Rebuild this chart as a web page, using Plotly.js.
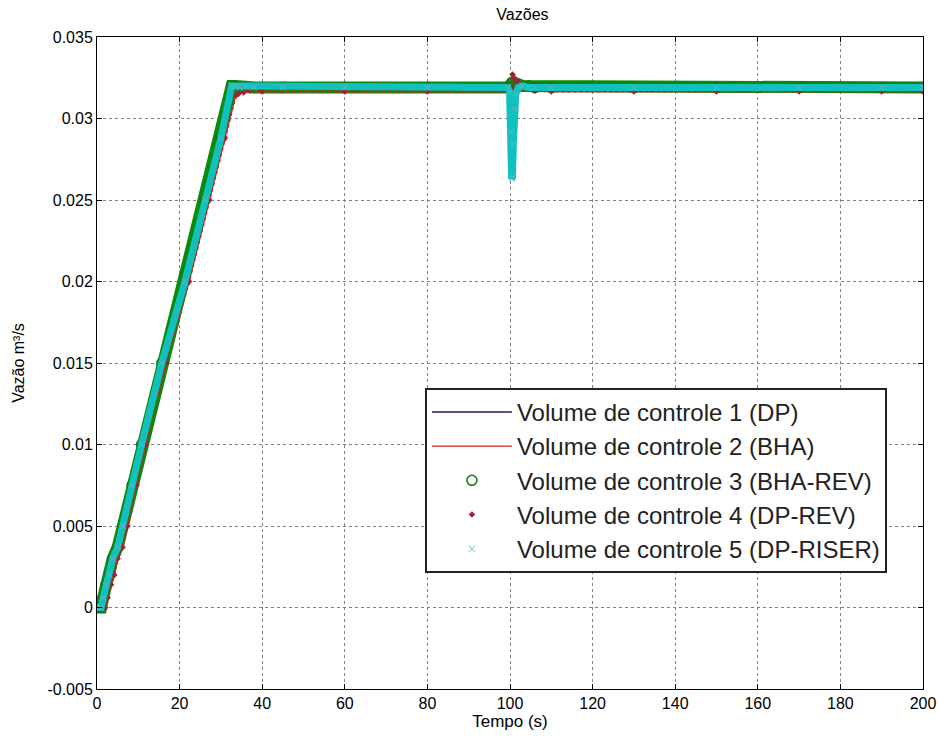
<!DOCTYPE html>
<html>
<head>
<meta charset="utf-8">
<script src="https://cdn.plot.ly/plotly-3.0.1.min.js"></script>
<style>html,body{margin:0;padding:0;background:#fff;}#chart{width:938px;height:738px;}</style>
</head>
<body>
<div id="chart"></div>
<script>
// Time (s) for volumes 1, 3, 5
const tempoA = [0, 1.0, 1.5, 2.2, 3.0, 3.8, 5.0, 6.3, 8.5, 10.8, 15.7, 21.3, 26.2, 30.0, 32.6, 33.4, 34.5, 36.0, 38.0, 45, 60, 80, 99.5, 99.9, 100.2, 100.4, 100.6, 100.8, 101.0, 101.4, 102.0, 103.0, 104.5, 106, 110, 130, 150, 170, 190, 200];
// Time (s) for volumes 2, 4 (lagging slightly)
const tempoB = [0, 2.0, 2.6, 3.4, 4.2, 5.0, 6.2, 7.4, 9.6, 11.8, 16.7, 22.3, 27.2, 31.0, 33.6, 34.2, 35.5, 37.0, 40, 60, 80, 99.5, 100.0, 100.3, 100.6, 101.0, 101.6, 102.5, 104, 106, 110, 130, 150, 170, 190, 200];

const vc1 = [0, 0, 0.0006, 0.0014, 0.0020, 0.0030, 0.0037, 0.0050, 0.0075, 0.0100, 0.0150, 0.0200, 0.0250, 0.0288, 0.0320, 0.0320, 0.0319, 0.03195, 0.0319, 0.0319, 0.0319, 0.0319, 0.0319, 0.0319, 0.0321, 0.0322, 0.0320, 0.0318, 0.0318, 0.0320, 0.0321, 0.0320, 0.0320, 0.0319, 0.0319, 0.0319, 0.0319, 0.0319, 0.0319, 0.0319];
const vc3 = [0, 0, 0.0006, 0.0014, 0.0020, 0.0030, 0.0037, 0.0050, 0.0075, 0.0100, 0.0150, 0.0200, 0.0250, 0.0288, 0.0320, 0.0320, 0.0319, 0.03195, 0.0319, 0.0319, 0.0319, 0.0319, 0.0319, 0.0319, 0.0321, 0.0322, 0.0320, 0.0318, 0.0318, 0.0320, 0.0321, 0.0320, 0.0320, 0.0319, 0.0319, 0.0319, 0.0319, 0.0319, 0.0319, 0.0319];
const vc5 = [0, 0, 0.0006, 0.0014, 0.0020, 0.0030, 0.0037, 0.0050, 0.0075, 0.0100, 0.0150, 0.0200, 0.0250, 0.0288, 0.0320, 0.0320, 0.0319, 0.03195, 0.0319, 0.0319, 0.0319, 0.0319, 0.0319, 0.0316, 0.0292, 0.0263, 0.0264, 0.0284, 0.0306, 0.0315, 0.0319, 0.0320, 0.0319, 0.0319, 0.0319, 0.0319, 0.0319, 0.0319, 0.0319, 0.0319];
const vc2 = [0, 0, 0.0006, 0.0014, 0.0020, 0.0030, 0.0037, 0.0050, 0.0075, 0.0100, 0.0150, 0.0200, 0.0250, 0.0288, 0.0314, 0.0315, 0.0316, 0.0317, 0.03165, 0.03165, 0.03165, 0.03165, 0.0315, 0.0318, 0.0327, 0.0325, 0.0323, 0.0321, 0.0319, 0.0317, 0.03165, 0.03165, 0.03165, 0.03165, 0.03165, 0.03165];
const vc4 = vc2.slice();

const nomes = ['Volume de controle 1 (DP)', 'Volume de controle 2 (BHA)', 'Volume de controle 3 (BHA-REV)', 'Volume de controle 4 (DP-REV)', 'Volume de controle 5 (DP-RISER)'];
const xTicks = [0, 20, 40, 60, 80, 100, 120, 140, 160, 180, 200];
const yTicks = [-0.005, 0, 0.005, 0.01, 0.015, 0.02, 0.025, 0.03, 0.035];
const yTickText = ['-0.005', '0', '0.005', '0.01', '0.015', '0.02', '0.025', '0.03', '0.035'];

const FONT = 'Liberation Sans, Arial, sans-serif';

const traces = [
  {x: tempoA, y: vc1, mode: 'lines', name: nomes[0], legendgroup: 'g1', line: {color: '#1a1a6e', width: 1.5}},
  {x: tempoB, y: vc2, mode: 'lines', name: nomes[1], legendgroup: 'g2', line: {color: '#d42020', width: 1.2}},
  {x: tempoA, y: vc3, mode: 'lines', name: nomes[2], legendgroup: 'g3', showlegend: false, line: {color: '#0a8a0a', width: 12}},
  {x: tempoA, y: vc3, mode: 'markers', name: nomes[2], legendgroup: 'g3', marker: {symbol: 'circle-open', size: 10, color: '#157a15', line: {width: 1.6}}},
  {x: tempoB, y: vc4, mode: 'lines', name: nomes[3], legendgroup: 'g4', showlegend: false, line: {color: '#e01818', width: 2, dash: 'dot'}},
  {x: tempoB, y: vc4, mode: 'markers', name: nomes[3], legendgroup: 'g4', marker: {symbol: 'diamond', size: 5, color: '#a3203a'}},
  {x: tempoA, y: vc5, mode: 'lines', name: nomes[4], legendgroup: 'g5', showlegend: false, line: {color: '#12c0c0', width: 7}},
  {x: tempoA, y: vc5, mode: 'markers', name: nomes[4], legendgroup: 'g5', marker: {symbol: 'x-thin-open', size: 6, color: '#5cbcbc', line: {width: 1, color: '#5cbcbc'}}}
];

const axisCommon = {
  showline: true, linecolor: '#000', linewidth: 1, mirror: 'ticks',
  ticks: 'inside', ticklen: 5, tickcolor: '#000',
  showgrid: true, gridcolor: '#808080', griddash: 'dot', gridwidth: 1,
  zeroline: false, tickfont: {family: FONT, size: 16, color: '#000'}
};

const layout = {
  width: 938, height: 738,
  margin: {l: 97, r: 15, t: 37, b: 49},
  paper_bgcolor: '#fff', plot_bgcolor: '#fff',
  font: {family: FONT, color: '#000'},
  title: {text: 'Vazões', font: {family: FONT, size: 16, color: '#000'}, x: 0.557, xanchor: 'center', y: 0.981, yanchor: 'middle'},
  xaxis: Object.assign({}, axisCommon, {
    range: [0, 200], tickvals: xTicks,
    title: {text: 'Tempo (s)', font: {family: FONT, size: 17}, standoff: 2}
  }),
  yaxis: Object.assign({}, axisCommon, {
    range: [-0.005, 0.035], tickvals: yTicks, ticktext: yTickText,
    title: {text: 'Vazão m³/s', font: {family: FONT, size: 16}, standoff: 18}
  }),
  showlegend: true,
  legend: {
    x: 0.397, y: 0.462, xanchor: 'left', yanchor: 'top',
    bgcolor: '#fff', bordercolor: '#222', borderwidth: 2,
    font: {size: 24, color: '#222', family: FONT},
    traceorder: 'grouped', tracegroupgap: 0, itemwidth: 80
  }
};

Plotly.newPlot('chart', traces, layout, {displayModeBar: false, staticPlot: true});
</script>
</body>
</html>
